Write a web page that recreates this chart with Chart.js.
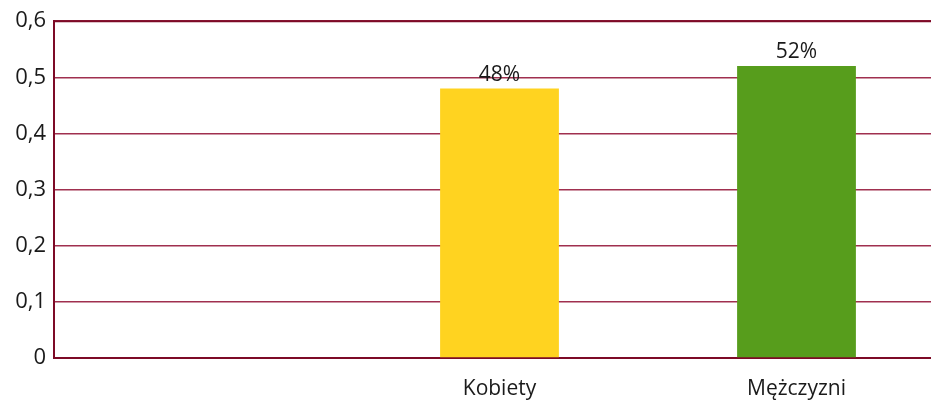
<!DOCTYPE html>
<html>
<head>
<meta charset="utf-8">
<script src="https://cdn.jsdelivr.net/npm/chart.js@4/dist/chart.umd.min.js"></script>
<style>
  html, body { margin: 0; padding: 0; background: #fff; overflow: hidden; }
  #wrap { width: 931px; height: 405px; overflow: hidden; }
  #box { width: 945px; height: 405px; }
</style>
</head>
<body>
<div id="wrap"><div id="box"><canvas id="chart"></canvas></div></div>
<script>
// dane
const categories = ["", "Kobiety", "Mężczyzni"];
const shares = [null, 0.48, 0.52];
const shareLabels = ["", "48%", "52%"];
const barColors = ["#FFD320", "#FFD320", "#579D1C"];
const yTicks = [0, 0.1, 0.2, 0.3, 0.4, 0.5, 0.6];

const FONT = "'Open Sans', 'DejaVu Sans', sans-serif";

// napisy nad slupkami + gorna krawedz
const barLabels = {
  id: "barLabels",
  afterDatasetsDraw(chart) {
    const ctx = chart.ctx;
    const area = chart.chartArea;
    ctx.save();
    ctx.strokeStyle = "#7d0a26";
    ctx.lineWidth = 2;
    ctx.beginPath();
    ctx.moveTo(area.left, area.top);
    ctx.lineTo(area.right, area.top);
    ctx.stroke();

    const meta = chart.getDatasetMeta(0);
    ctx.font = "21px " + FONT;
    ctx.fillStyle = "#1a1a1a";
    ctx.textAlign = "center";
    ctx.textBaseline = "alphabetic";
    meta.data.forEach((bar, i) => {
      if (shares[i] == null) return;
      ctx.fillText(shareLabels[i], bar.x, bar.y - 8);
    });
    ctx.restore();
  }
};

new Chart(document.getElementById("chart"), {
  type: "bar",
  data: {
    labels: categories,
    datasets: [{
      data: shares,
      backgroundColor: barColors,
      barPercentage: 0.4,
      categoryPercentage: 1
    }]
  },
  options: {
    responsive: true,
    maintainAspectRatio: false,
    animation: false,
    layout: { padding: { top: 21, right: 0, left: 0, bottom: 0 } },
    plugins: { legend: { display: false }, tooltip: { enabled: false } },
    scales: {
      x: {
        grid: { display: false, drawTicks: false },
        border: { color: "#7d0a26", width: 2 },
        ticks: { color: "#1a1a1a", font: { family: FONT, size: 21 }, padding: 18 },
        afterFit(scale) { scale.height = 47; }
      },
      y: {
        min: 0,
        max: 0.6,
        afterBuildTicks(scale) { scale.ticks = yTicks.map(v => ({ value: v })); },
        grid: { drawTicks: false, color: "#a0304f", lineWidth: 1.5 },
        border: { color: "#7d0a26", width: 2 },
        ticks: {
          color: "#1a1a1a",
          font: { family: FONT, size: 22 },
          padding: 8,
          callback: v => String(Math.round(v * 10) / 10).replace(".", ",")
        },
        afterFit(scale) { scale.width = 54; }
      }
    }
  },
  plugins: [barLabels]
});
</script>
</body>
</html>
